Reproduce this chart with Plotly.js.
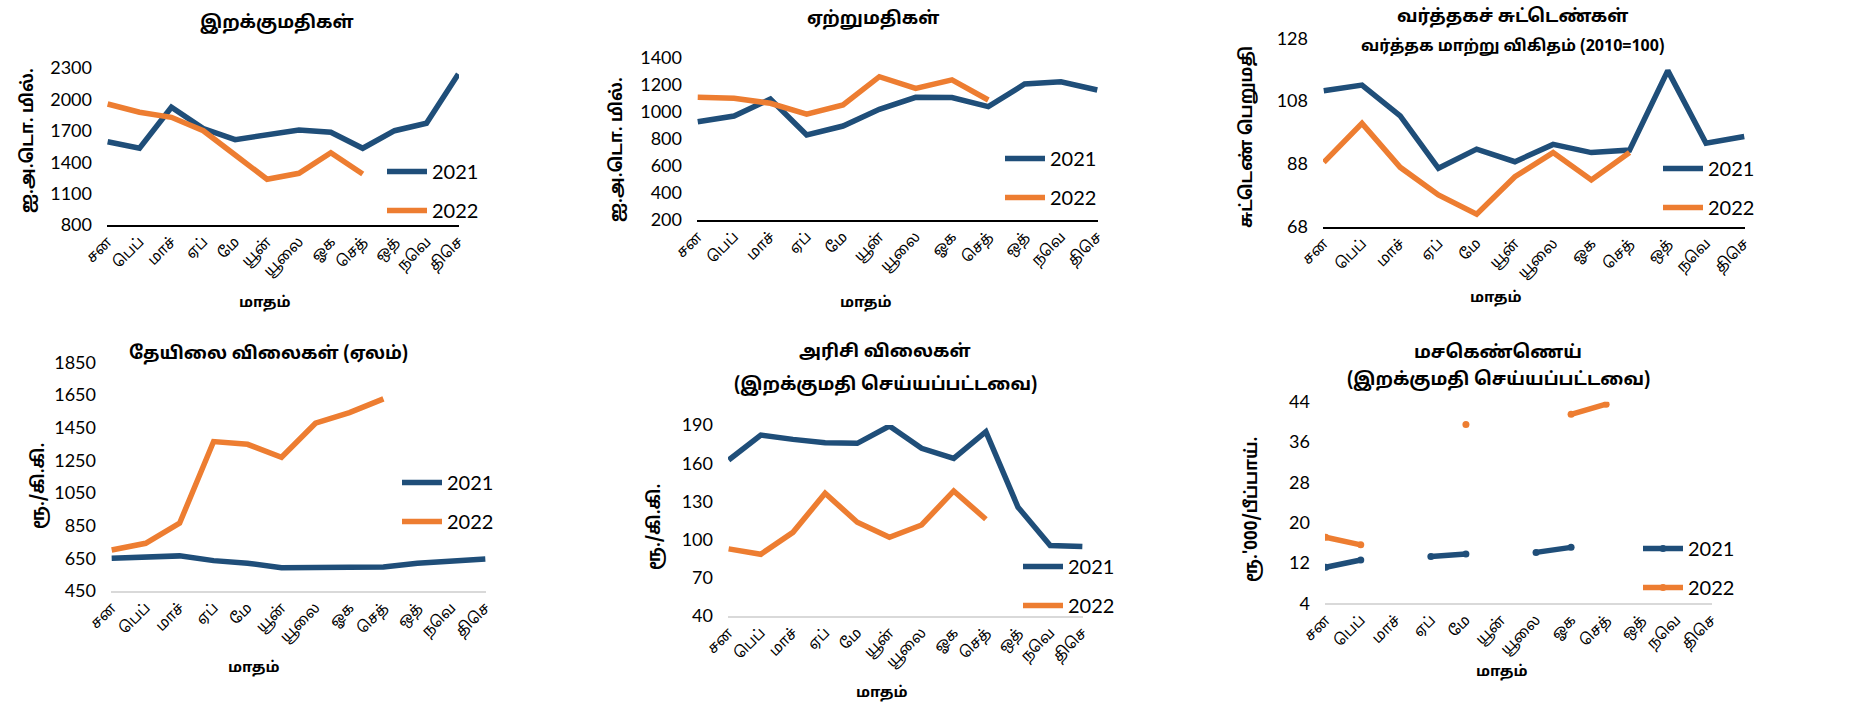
<!DOCTYPE html>
<html>
<head>
<meta charset="utf-8">
<script src="https://cdn.plot.ly/plotly-3.0.1.min.js"></script>
<style>html,body{margin:0;padding:0;background:#fff;}#chart{width:1854px;height:707px;}</style>
</head>
<body>
<div id="chart"></div>
<script>
// ---------- data ----------
const months = ["சன", "பெப்", "மாச்", "ஏப்", "மே", "யூன்", "யூலை", "ஓக", "செத்", "ஒத்", "நவெ", "திசெ"];
const seriesNames = ["2021", "2022"];

const imports2021 = [1596, 1533, 1925, 1722, 1615, 1668, 1708, 1686, 1533, 1701, 1772, 2243];
const imports2022 = [1956, 1877, 1829, 1701, 1469, 1237, 1294, 1491, 1288, null, null, null];

const exports2021 = [925, 967, 1092, 827, 893, 1016, 1105, 1103, 1036, 1203, 1220, 1159];
const exports2022 = [1105, 1098, 1061, 980, 1048, 1257, 1171, 1233, 1085, null, null, null];

const tot2021 = [111.3, 113.1, 103.3, 86.6, 92.7, 88.7, 94.2, 91.6, 92.4, 117.7, 94.6, 96.7];
const tot2022 = [88.5, 100.9, 86.9, 78.1, 72.0, 83.9, 91.6, 82.9, 91.6, null, null, null];

const tea2021 = [650, 655, 665, 636, 620, 593, 597, 597, 597, 620, 634, 646];
const tea2022 = [701, 742, 865, 1365, 1348, 1269, 1477, 1542, 1626, null, null, null];

const rice2021 = [162.5, 182.1, 178.7, 176.1, 175.6, 189.2, 171.7, 163.8, 184.8, 125.4, 95.3, 94.5];
const rice2022 = [92.7, 88.5, 105.7, 136.4, 113.6, 101.8, 111.5, 138.2, 116, null, null, null];

const oil2021 = [11.15, 12.6, null, 13.3, 13.8, null, 14.1, 15.1, null, null, null, null];
const oil2022 = [17.1, 15.6, null, null, 39.5, null, null, 41.5, 43.5, null, null, null];

const yTicks1 = [800, 1100, 1400, 1700, 2000, 2300];
const yTicks2 = [200, 400, 600, 800, 1000, 1200, 1400];
const yTicks3 = [68, 88, 108, 128];
const yTicks4 = [450, 650, 850, 1050, 1250, 1450, 1650, 1850];
const yTicks5 = [40, 70, 100, 130, 160, 190];
const yTicks6 = [4, 12, 20, 28, 36, 44];

// ---------- styling ----------
const W = 1854, H = 707;
const BLUE = "#1F4E79", ORANGE = "#ED7D31";
const TAMIL = "'Noto Sans Tamil', 'Latha', 'Lohit Tamil', 'Noto Sans', sans-serif";
const NUM = "Lato, 'Noto Sans', sans-serif";
const px = v => v / W;
const py = v => 1 - v / H;

// series with gaps get round end-points (markers) so single points stay visible
function hasGaps(vals) {
  return vals.some((v, k) => v === null && vals.slice(k).some(w => w !== null));
}

const panels = [
  {s: [imports2021, imports2022], ticks: yTicks1, x: [107, 459], y: [225, 68], line: "#000000",
   legend: [382, 152]},
  {s: [exports2021, exports2022], ticks: yTicks2, x: [697, 1098], y: [220, 57.3], line: "#000000",
   legend: [1000, 139]},
  {s: [tot2021, tot2022], ticks: yTicks3, x: [1323, 1745], y: [226.7, 38.3], line: "#000000",
   legend: [1658, 149]},
  {s: [tea2021, tea2022], ticks: yTicks4, x: [111, 486], y: [591, 362.3], line: "#d9d9d9",
   legend: [397, 463]},
  {s: [rice2021, rice2022], ticks: yTicks5, x: [728, 1083], y: [616, 425], line: "#d9d9d9",
   legend: [1018, 547]},
  {s: [oil2021, oil2022], ticks: yTicks6, x: [1325, 1712], y: [603.3, 401.7], line: "#d9d9d9",
   legend: [1638, 529]}
];

const traces = [];
const layout = {
  width: W, height: H,
  margin: {l: 0, r: 0, t: 0, b: 0},
  paper_bgcolor: "#ffffff", plot_bgcolor: "#ffffff",
  showlegend: true,
  annotations: []
};

panels.forEach((p, i) => {
  const n = i + 1;
  const xa = "x" + (n === 1 ? "" : n), ya = "y" + (n === 1 ? "" : n);
  const legName = "legend" + (n === 1 ? "" : n);
  p.s.forEach((vals, j) => {
    const gaps = hasGaps(vals);
    traces.push({
      type: "scatter",
      mode: gaps ? "lines+markers" : "lines",
      x: months, y: vals,
      name: seriesNames[j],
      xaxis: xa, yaxis: ya,
      legend: legName,
      legendgroup: "g" + n + "_" + j,
      line: {color: j === 0 ? BLUE : ORANGE, width: 5.5},
      marker: {color: j === 0 ? BLUE : ORANGE, size: 7},
      connectgaps: false,
      hoverinfo: "x+y+name"
    });
  });
  const lo = p.ticks[0], hi = p.ticks[p.ticks.length - 1];
  layout["xaxis" + (n === 1 ? "" : n)] = {
    domain: [px(p.x[0]), px(p.x[1])],
    anchor: ya,
    type: "category",
    range: [-0.02, 11.02],
    showgrid: false, zeroline: false,
    showline: true, linecolor: p.line, linewidth: 2,
    ticks: "", tickangle: -45,
    tickfont: {family: TAMIL, size: 15, color: "#000"},
    fixedrange: true
  };
  layout["yaxis" + (n === 1 ? "" : n)] = {
    domain: [py(p.y[0]), py(p.y[1])],
    anchor: xa,
    range: [lo, hi],
    tickvals: p.ticks,
    showgrid: false, zeroline: false, showline: false,
    ticks: "", ticklabelstandoff: 14,
    tickfont: {family: NUM, size: 18, color: "#000"},
    fixedrange: true
  };
  layout[legName] = {
    x: px(p.legend[0]), y: py(p.legend[1]),
    xanchor: "left", yanchor: "top",
    bgcolor: "rgba(0,0,0,0)",
    font: {family: NUM, size: 20, color: "#000"},
    traceorder: "grouped", tracegroupgap: 10,
    itemwidth: 40
  };
});

// ---------- texts ----------
function ann(text, x, y, size, opts) {
  layout.annotations.push(Object.assign({
    text: text, x: px(x), y: py(y), xref: "paper", yref: "paper",
    xanchor: "center", yanchor: "middle", showarrow: false,
    font: {family: TAMIL, size: size, color: "#000", weight: "bold"}
  }, opts || {}));
}
// chart titles
ann("<b>இறக்குமதிகள்</b>", 277, 23, 18);
ann("<b>ஏற்றுமதிகள்</b>", 873, 20, 18);
ann("<b>வர்த்தகச் சுட்டெண்கள்</b>", 1512, 18, 18);
ann("<b>வர்த்தக மாற்று விகிதம் (2010=100)</b>", 1512, 47, 16);
ann("<b>தேயிலை விலைகள் (ஏலம்)</b>", 268, 354, 18);
ann("<b>அரிசி விலைகள்</b>", 885, 352, 18);
ann("<b>(இறக்குமதி செய்யப்பட்டவை)</b>", 885, 385, 18);
ann("<b>மசகெண்ணெய்</b>", 1498, 353, 18);
ann("<b>(இறக்குமதி செய்யப்பட்டவை)</b>", 1498, 380, 18);
// y titles
ann("<b>ஐ.அ.டொ. மில்.</b>", 28, 141, 17, {textangle: -90});
ann("<b>ஐ.அ.டொ. மில்.</b>", 617, 150, 17, {textangle: -90});
ann("<b>சுட்டெண் பெறுமதி</b>", 1247, 137, 17, {textangle: -90});
ann("<b>ரூ./கி.கி.</b>", 39, 486, 17, {textangle: -90});
ann("<b>ரூ./கி.கி.</b>", 655, 527, 17, {textangle: -90});
ann("<b>ரூ.'000/பீப்பாய்.</b>", 1252, 510, 17, {textangle: -90});
// x titles
ann("<b>மாதம்</b>", 265, 303, 15);
ann("<b>மாதம்</b>", 866, 303, 15);
ann("<b>மாதம்</b>", 1496, 298, 15);
ann("<b>மாதம்</b>", 254, 668, 15);
ann("<b>மாதம்</b>", 882, 693, 15);
ann("<b>மாதம்</b>", 1502, 672, 15);

Plotly.newPlot("chart", traces, layout, {staticPlot: true, displayModeBar: false});
</script>
</body>
</html>
